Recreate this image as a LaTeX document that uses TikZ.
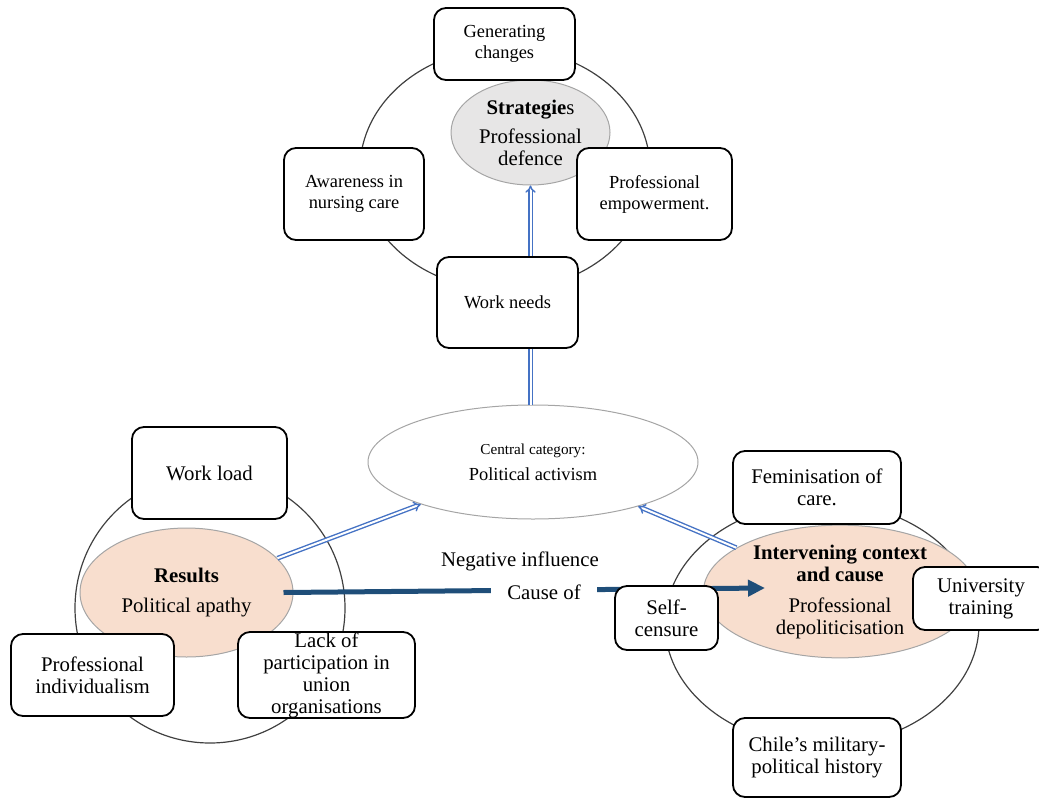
\documentclass[tikz,border=0pt]{standalone}
\usepackage{fontspec}
\setmainfont{Liberation Serif}
\usetikzlibrary{arrows.meta,shapes.geometric}
\definecolor{dblblue}{RGB}{68,114,196}
\definecolor{causeblue}{RGB}{31,78,121}
\definecolor{peach}{RGB}{248,222,206}
\definecolor{ovalgray}{RGB}{231,230,230}
\definecolor{ovaldraw}{RGB}{165,165,165}
\begin{document}
\begin{tikzpicture}[x=0.5pt,y=-0.5pt, line join=round, font=\fontsize{10.4}{11}\selectfont,
	box/.style={draw, line width=0.9pt, rounded corners=6pt, fill=white, align=center, inner sep=0pt},
	topfont/.style={font=\fontsize{9.2}{10.5}\selectfont},
	oval/.style={ellipse, draw=ovaldraw, line width=0.5pt, align=center, inner sep=0pt},
	ring/.style={draw=black!75, line width=0.6pt},
	dbl/.style={draw=dblblue, double=white, double distance=1pt, line width=0.7pt, -Implies},
	cause/.style={draw=causeblue, line width=2.5pt, -{Triangle[length=8.5pt,width=8pt]}}]
	\useasboundingbox (0,0) rectangle (1039,798);
	% the three rings
	\draw[ring] (505,169) ellipse [x radius=72.5pt, y radius=60.5pt];
	\draw[ring] (210,608) circle [radius=67.5pt];
	\draw[ring] (822,624) ellipse [x radius=78.5pt, y radius=61pt];
	% ovals
	\node[oval, fill=ovalgray, minimum width=79.5pt, minimum height=52.5pt] (strat) at (530.5,132.5)
		{\textbf{Strategie}s\\[3.5pt] Professional\\defence};
	\node[oval, fill=white, minimum width=165pt, minimum height=57pt, font=\fontsize{9.2}{10}\selectfont] (central) at (533,462)
		{{\fontsize{7.6}{9}\selectfont Central category:}\\[3pt] Political activism};
	\node[oval, fill=peach, minimum width=106.5pt, minimum height=64.5pt] (res) at (186.5,592.5)
		{\textbf{Results}\\[4pt] Political apathy};
	\node[oval, fill=peach, minimum width=136.5pt, minimum height=65.5pt] (intv) at (840,591.5)
		{\textbf{Intervening context}\\\textbf{and cause}\\[4.5pt] Professional\\depoliticisation};
	% connectors
	\draw[dbl] (central.north -| strat.south) -- (strat.south);
	\draw[dbl] (res) -- (central);
	\draw[dbl] (intv) -- (central);
	\coordinate (tip) at (765,588);
	\draw[cause] ([xshift=-5pt]res.east) -- (tip);
	\node[fill=white, inner xsep=8pt, inner ysep=2pt] (causeof) at (544,592) {Cause of};
	\node (neg) at (520,561) {Negative influence};
	% boxes
	\node[box, topfont, minimum width=70.5pt, minimum height=36pt] (gen) at (504.5,44) {Generating\\changes};
	\node[box, topfont, minimum width=70pt, minimum height=46pt] (aware) at (354,194) {Awareness in\\nursing care};
	\node[box, topfont, minimum width=77.5pt, minimum height=46pt] (empow) at (654.5,194) {Professional\\empowerment.};
	\node[box, topfont, minimum width=70.5pt, minimum height=45.5pt] (need) at (507.5,302.5) {Work needs};
	\node[box, minimum width=77.5pt, minimum height=46pt] (load) at (209.5,473) {Work load};
	\node[box, minimum width=81.5pt, minimum height=41pt] (indiv) at (92.5,675) {Professional\\individualism};
	\node[box, minimum width=88.5pt, minimum height=43pt] (lack) at (326.5,675) {Lack of\\participation in\\union\\organisations};
	\node[box, minimum width=84pt, minimum height=36.5pt] (femi) at (817,487.5) {Feminisation of\\care.};
	\node[box, minimum width=51.5pt, minimum height=32pt] (self) at (666.5,618) {Self-\\censure};
	\node[box, minimum width=68pt, minimum height=31.5pt] (univ) at (981,598.5) {University\\training};
	\node[box, minimum width=84pt, minimum height=39.5pt] (chile) at (817,757.5) {Chile’s military-\\political history};
\end{tikzpicture}
\end{document}
